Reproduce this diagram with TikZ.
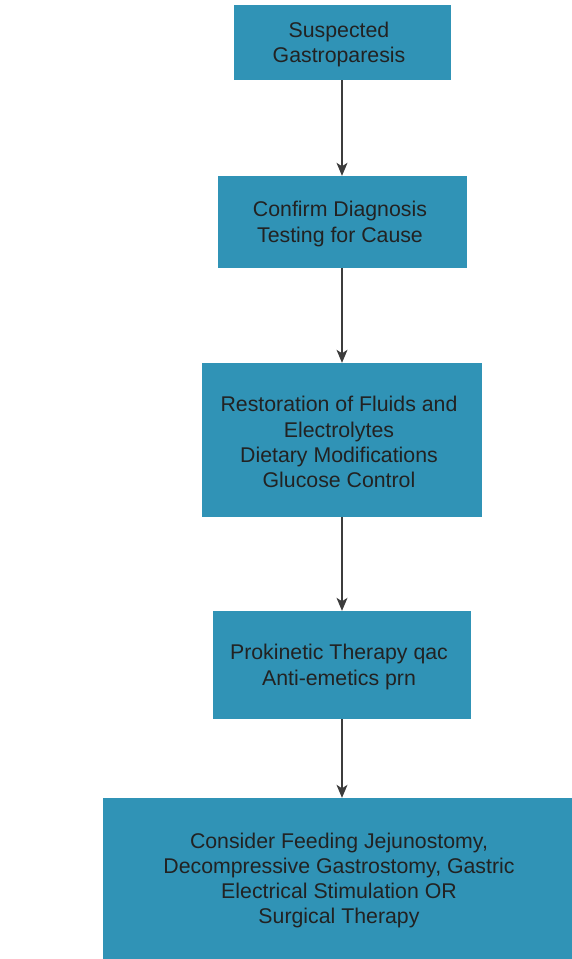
\documentclass[tikz,border=0pt]{standalone}
\usepackage{fontspec}
\setmainfont{Liberation Sans}
\usetikzlibrary{arrows.meta}
\definecolor{boxblue}{HTML}{3093B6}
\definecolor{txt}{HTML}{222222}
\definecolor{linegray}{HTML}{3C3C3C}
\begin{document}
\begin{tikzpicture}[x=1pt,y=-1pt,
  flowbox/.style={rectangle, fill=boxblue, draw=none, inner sep=0pt},
  flowtext/.style={inner sep=0pt, align=center, text=txt, yshift=-2pt,
    font=\fontsize{21.3}{25.2}\selectfont},
  flowarrow/.style={draw=linegray, line width=1.2pt, -{Stealth[length=13pt,width=11pt,inset=3.5pt]}}]
\useasboundingbox (0,0) rectangle (572,959);
\node[flowbox, minimum width=217pt, minimum height=75pt] (b1) at (342.5,42.5) {};
\node[flowtext] (t1) at (339,42.5) {Suspected\\Gastroparesis};
\node[flowbox, minimum width=249pt, minimum height=92pt] (b2) at (342.5,222) {};
\node[flowtext] (t2) at (340,222) {Confirm Diagnosis\\Testing for Cause};
\node[flowbox, minimum width=280pt, minimum height=154pt] (b3) at (342,440) {};
\node[flowtext] (t3) at (339,440) {Restoration of Fluids and\\Electrolytes\\Dietary Modifications\\Glucose Control};
\node[flowbox, minimum width=258pt, minimum height=108pt] (b4) at (342,665) {};
\node[flowtext] (t4) at (339,665) {Prokinetic Therapy qac\\Anti-emetics prn};
\node[flowbox, minimum width=469pt, minimum height=161pt] (b5) at (337.5,878.5) {};
\node[flowtext] (t5) at (339,878.5) {Consider Feeding Jejunostomy,\\Decompressive Gastrostomy, Gastric\\Electrical Stimulation OR\\Surgical Therapy};
\draw[flowarrow] (b1.south -| 342,0) -- (b2.north -| 342,0);
\draw[flowarrow] (b2.south -| 342,0) -- (b3.north -| 342,0);
\draw[flowarrow] (b3.south -| 342,0) -- (b4.north -| 342,0);
\draw[flowarrow] (b4.south -| 342,0) -- (b5.north -| 342,0);
\end{tikzpicture}
\end{document}
